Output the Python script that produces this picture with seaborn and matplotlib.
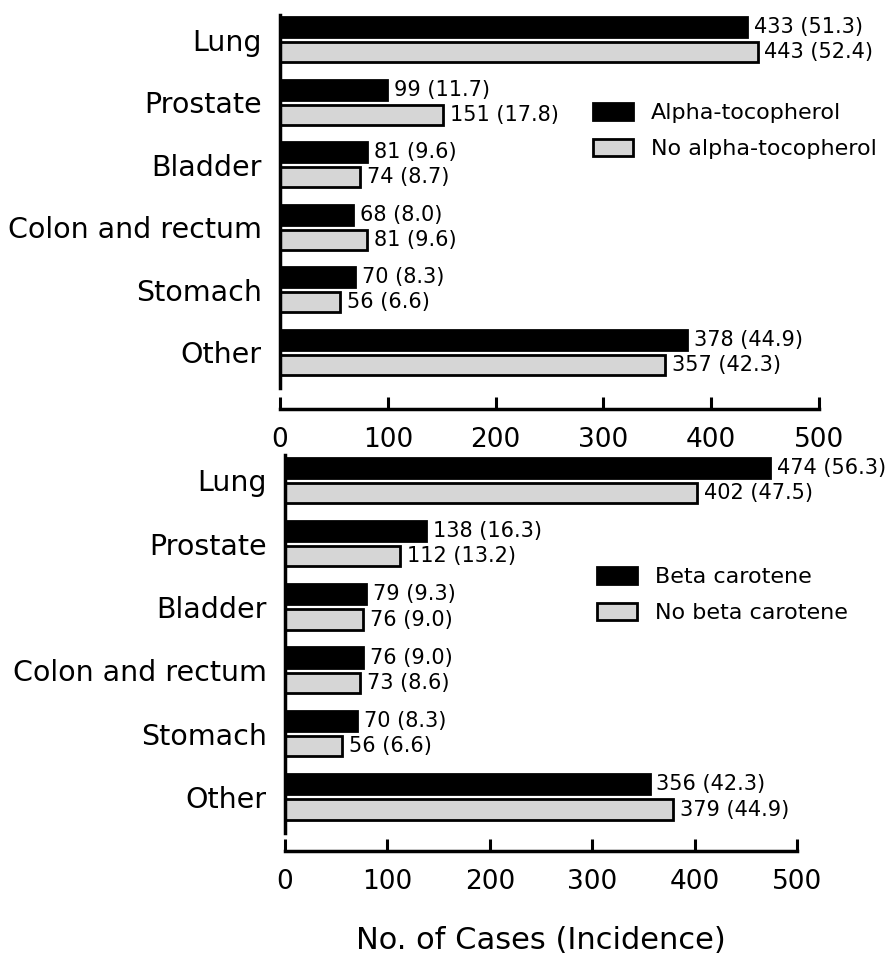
import pandas as pd
import matplotlib
matplotlib.use("Agg")
import matplotlib.pyplot as plt
import seaborn as sns

# categorias (mesma ordem nos dois painéis)
cancers = ["Lung", "Prostate", "Bladder", "Colon and rectum", "Stomach", "Other"]

# painel de cima: alfa-tocoferol
alpha_cases = [433, 99, 81, 68, 70, 378]
alpha_rate = [51.3, 11.7, 9.6, 8.0, 8.3, 44.9]
no_alpha_cases = [443, 151, 74, 81, 56, 357]
no_alpha_rate = [52.4, 17.8, 8.7, 9.6, 6.6, 42.3]

# painel de baixo: beta-caroteno
beta_cases = [474, 138, 79, 76, 70, 356]
beta_rate = [56.3, 16.3, 9.3, 9.0, 8.3, 42.3]
no_beta_cases = [402, 112, 76, 73, 56, 379]
no_beta_rate = [47.5, 13.2, 9.0, 8.6, 6.6, 44.9]

x_ticks = [0, 100, 200, 300, 400, 500]

sns.set_theme(style="white")
plt.rcParams["font.family"] = ["DejaVu Sans"]
plt.rcParams["text.color"] = "black"
plt.rcParams["axes.labelcolor"] = "black"

fig = plt.figure(figsize=(8.87, 9.71), dpi=100)
W, H = 887, 971


def painel(rect, casos1, taxa1, nome1, casos2, taxa2, nome2, leg_xy, offset):
    ax = fig.add_axes(rect)
    df = pd.DataFrame({
        "cancer": cancers * 2,
        "grupo": [nome1] * len(cancers) + [nome2] * len(cancers),
        "casos": casos1 + casos2,
    })
    sns.barplot(data=df, x="casos", y="cancer", hue="grupo", orient="h",
                palette=["black", "#d6d6d6"], width=0.8, gap=0.2,
                edgecolor="black", linewidth=2, ax=ax)

    # rótulos "n (taxa)" no fim de cada barra
    for cont, casos, taxa in zip(ax.containers, [casos1, casos2], [taxa1, taxa2]):
        rot = [f"{c} ({t:.1f})" for c, t in zip(casos, taxa)]
        ax.bar_label(cont, labels=rot, padding=5, fontsize=15, color="black")

    ax.set_xlim(0, 500)
    ax.set_ylim(5.57, -0.4)
    ax.set_xticks(x_ticks)
    ax.set_ylabel("")
    ax.set_xlabel("")
    ax.tick_params(axis="x", direction="in", length=9, width=2.2, labelsize=19,
                   pad=13, bottom=True, colors="black")
    ax.tick_params(axis="y", length=0, labelsize=20.5, pad=13, colors="black")
    for s in ["top", "right"]:
        ax.spines[s].set_visible(False)
    for s in ["left", "bottom"]:
        ax.spines[s].set_color("black")
        ax.spines[s].set_linewidth(2.5)
    ax.spines["bottom"].set_position(("outward", offset))

    handles, labels = ax.get_legend_handles_labels()
    ax.legend(handles, labels, loc="upper left",
              bbox_to_anchor=(leg_xy[0] / W, 1 - leg_xy[1] / H),
              bbox_transform=fig.transFigure, frameon=False, fontsize=16,
              handlelength=1.8, handleheight=0.8, labelspacing=0.7,
              handletextpad=0.8, borderpad=0, borderaxespad=0)
    return ax


ax1 = painel([280 / W, 1 - 388 / H, 539 / W, 373 / H],
             alpha_cases, alpha_rate, "Alpha-tocopherol",
             no_alpha_cases, no_alpha_rate, "No alpha-tocopherol",
             (593, 103), 15)

ax2 = painel([285 / W, 1 - 833 / H, 512 / W, 378 / H],
             beta_cases, beta_rate, "Beta carotene",
             no_beta_cases, no_beta_rate, "No beta carotene",
             (597, 567), 13)

ax2.set_xlabel("No. of Cases (Incidence)", fontsize=22, labelpad=22)

fig.savefig("out.png", dpi=100)
